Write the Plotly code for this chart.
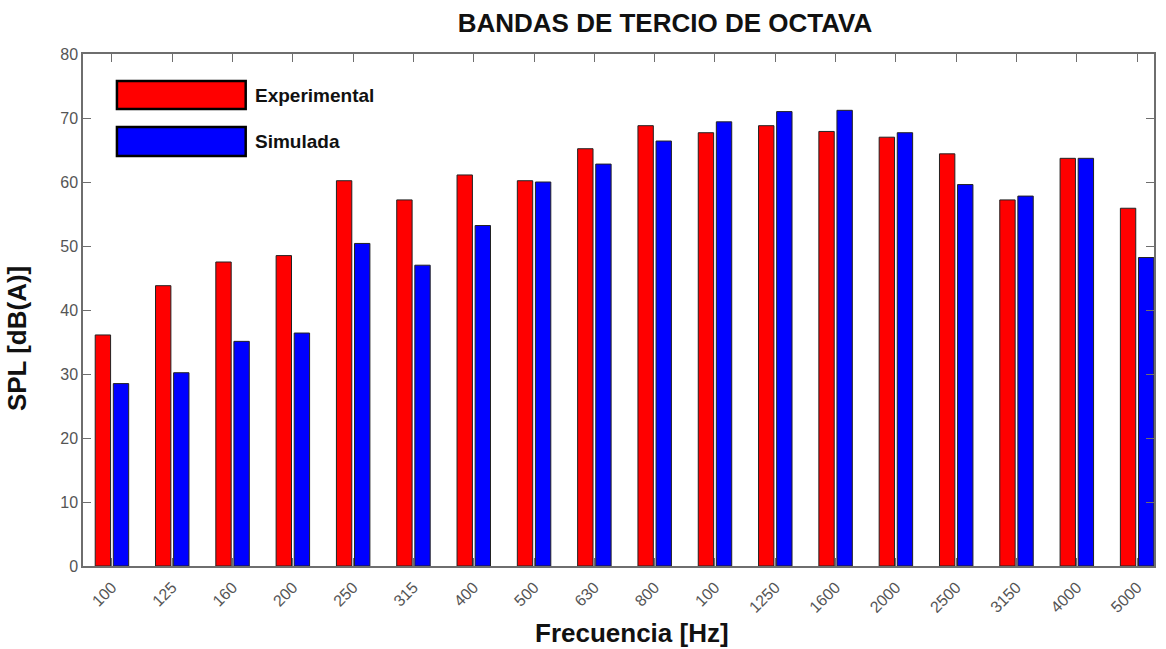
import plotly.graph_objects as go

bands = ["100", "125", "160", "200", "250", "315", "400", "500", "630", "800",
         "100", "1250", "1600", "2000", "2500", "3150", "4000", "5000"]
experimental = [36.1, 43.8, 47.5, 48.5, 60.2, 57.2, 61.1, 60.2, 65.2, 68.8,
                67.7, 68.8, 67.9, 67.0, 64.4, 57.2, 63.7, 55.9]
simulada = [28.5, 30.2, 35.1, 36.4, 50.4, 47.0, 53.2, 60.0, 62.8, 66.4,
            69.4, 71.0, 71.2, 67.7, 59.6, 57.8, 63.7, 48.2]
y_ticks = [0, 10, 20, 30, 40, 50, 60, 70, 80]

x = list(range(len(bands)))
FONT = "Liberation Sans, Arial, sans-serif"
AXC = "#6e6e6e"
W, H = 1166, 649
L, R, T, B = 83, 10, 54, 83
PW, PH = W - L - R, H - T - B

fig = go.Figure()
fig.add_trace(go.Bar(x=x, y=experimental, name="Experimental",
                     marker=dict(color="#FF0000", line=dict(color="#222222", width=1)),
                     showlegend=False))
fig.add_trace(go.Bar(x=x, y=simulada, name="Simulada",
                     marker=dict(color="#0000FF", line=dict(color="#222222", width=1)),
                     showlegend=False))

fig.update_layout(
    width=W, height=H,
    margin=dict(l=L, r=R, t=T, b=B),
    paper_bgcolor="white", plot_bgcolor="white",
    barmode="group", bargap=0.4, bargroupgap=0.15,
    font=dict(family=FONT, color="#555555"),
    title=dict(text="<b>BANDAS DE TERCIO DE OCTAVA</b>", x=665 / W, xref="container",
               xanchor="center", y=1 - 23 / H, yref="container", yanchor="middle",
               font=dict(family=FONT, size=26, color="#111111")),
    xaxis=dict(range=[-0.48, 17.28], tickvals=x, ticktext=bands, tickangle=-45,
               tickfont=dict(size=16, color="#555555"), ticklabelstandoff=4,
               showline=True, linecolor=AXC, linewidth=1.5, mirror="allticks",
               ticks="inside", ticklen=8, tickcolor=AXC, showgrid=False, zeroline=False),
    yaxis=dict(range=[0, 80], tickvals=y_ticks, tickfont=dict(size=16, color="#555555"),
               showline=True, linecolor=AXC, linewidth=1.5, mirror="allticks",
               ticks="inside", ticklen=8, tickcolor=AXC, showgrid=False, zeroline=False),
)


def px_x(p):
    return (p - L) / PW


def px_y(p):
    return (H - B - p) / PH


# axis titles
fig.add_annotation(text="<b>Frecuencia [Hz]</b>", xref="paper", yref="paper",
                   x=px_x(633), y=px_y(633), xanchor="center", yanchor="middle",
                   showarrow=False, font=dict(family=FONT, size=26, color="#111111"))
fig.add_annotation(text="<b>SPL [dB(A)]</b>", xref="paper", yref="paper",
                   x=px_x(17), y=px_y(339), xanchor="center", yanchor="middle",
                   textangle=-90, showarrow=False, font=dict(family=FONT, size=26, color="#111111"))

# legend (custom large swatches)
legend_items = [("Experimental", "#FF0000", 81, 109), ("Simulada", "#0000FF", 127, 156)]
for name, col, y0, y1 in legend_items:
    fig.add_shape(type="rect", xref="paper", yref="paper",
                  x0=px_x(117), x1=px_x(246), y0=px_y(y1), y1=px_y(y0),
                  fillcolor=col, line=dict(color="black", width=2.5))
    fig.add_annotation(text="<b>" + name + "</b>", xref="paper", yref="paper",
                       x=px_x(253), y=px_y((y0 + y1) / 2), xanchor="left", yanchor="middle",
                       showarrow=False, font=dict(family=FONT, size=19, color="#111111"))

fig.write_html("out.html", config={"displayModeBar": False},
               post_script="document.body.style.margin='0';")
